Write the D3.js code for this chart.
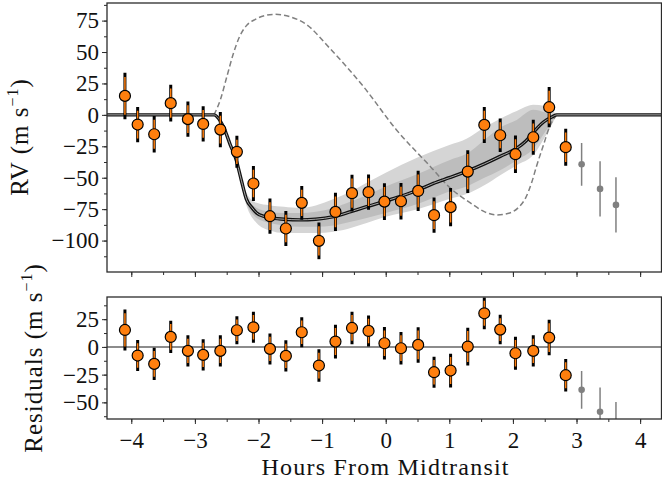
<!DOCTYPE html>
<html>
<head>
<meta charset="utf-8">
<script src="https://cdn.jsdelivr.net/npm/d3@7"></script>
<style>
  body { margin: 0; background: #fff; }
  text { font-family: "Liberation Serif", serif; fill: #111; }
</style>
</head>
<body>
<script>
// observations (hours from midtransit, m/s)
const times = [-4.10, -3.90, -3.64, -3.38, -3.11, -2.87, -2.60, -2.34, -2.08, -1.82, -1.57, -1.32, -1.05,
  -0.79, -0.53, -0.27, -0.02, 0.24, 0.51, 0.76, 1.02, 1.29, 1.55, 1.80, 2.04, 2.32, 2.57, 2.83, 3.08, 3.37, 3.62];
const rv = [15.1, -7.7, -15.4, 9.3, -3.4, -7.2, -11.7, -29.4, -54.6, -80.6, -90.4, -70.0, -100.2,
  -77.2, -62.3, -61.5, -69.0, -68.7, -60.5, -79.8, -73.4, -45.1, -8.0, -16.2, -31.3, -17.8, 6.1, -25.7, -39.3, -58.9, -71.6];
const resid = [15.3, -7.8, -15.3, 9.0, -3.6, -7.2, -3.6, 15.0, 17.7, -1.8, -8.1, 13.2, -16.8,
  4.8, 17.1, 14.4, 3.3, -1.2, 1.8, -22.8, -21.3, 0.3, 30.3, 15.6, -5.7, -3.6, 8.4, -25.5, -38.7, -58.5, -71.6];
const errTotal = [18.5, 14, 14.6, 14.6, 14, 14, 14, 12.7, 14, 14, 14, 13.5, 14.6,
  15.2, 14.6, 14, 14.6, 14.6, 16, 14, 15.2, 17, 14.3, 13.3, 14.9, 14, 16, 14.7, 17, 22, 22];
const errMeas = [15, 11, 11.6, 11.6, 11, 11, 11, 9.7, 11, 11, 11, 10.5, 11.6,
  12.2, 11.6, 11, 11.6, 11.6, 13, 11, 12.2, 14, 11.3, 10.3, 11.9, 11, 13, 11.7, 17, 22, 22];
const nFit = 28; // the last three points are not in the fit (grey)

// best-fit model
const modelT = [-4.5, -2.70, -2.60, -2.53, -2.45, -2.35, -2.27, -2.19, -2.10, -2.03, -1.90, -1.82, -1.60, -1.35,
  -1.10, -0.82, -0.55, -0.30, 0.0, 0.22, 0.50, 0.75, 1.00, 1.27, 1.55, 1.80, 2.06, 2.20, 2.32, 2.45, 2.53, 2.62, 2.69, 4.5];
const modelV = [0, 0, -5, -12, -23, -36, -52, -67, -74, -78, -81, -82, -83, -83.5,
  -83, -81, -77, -73, -68.5, -65, -60, -54.5, -50, -45, -39, -33, -26.5, -21, -14, -7, -4, -1.5, 0, 0];

// credible bands
const bandT = [-2.45, -2.35, -2.19, -2.03, -1.82, -1.60, -1.35, -1.10, -0.82, -0.55, -0.30, 0.0, 0.50, 1.00, 1.27, 1.55, 1.80, 2.06, 2.32, 2.50, 2.62, 2.69];
const lightHi = [-23, -34, -62, -70, -72, -73, -74, -72, -67, -61, -54, -46, -34, -24, -19, -10, -3, 3, 8, 7, 3, 0];
const darkHi = [-23, -35, -65, -74, -77, -78, -78, -77, -74, -69, -64, -57, -47, -36, -31, -20, -10, -4, 4, 2, 0, 0];
const darkLo = [-23, -37, -70, -82, -86, -88, -89, -89, -88, -85, -82, -78, -71, -61, -57, -50, -44, -36, -27, -14, -5, 0];
const lightLo = [-23, -38, -72, -86, -92, -94, -94, -94, -93, -90, -86, -81, -75, -67, -63, -56, -48, -40, -32, -18, -7, 0];

// dashed comparison model
const dashT = [-2.70, -2.60, -2.50, -2.40, -2.30, -2.19, -2.05, -1.90, -1.74, -1.50, -1.25, -0.88, -0.35, 0.17,
  0.70, 1.01, 1.33, 1.55, 1.74, 1.95, 2.10, 2.20, 2.30, 2.37, 2.48, 2.58, 2.69];
const dashV = [0, 12, 30, 48, 62, 71, 76, 79, 80, 78, 72, 53, 22.5, -12,
  -41, -58, -70, -77, -79.6, -78, -73, -66, -53, -41, -24, -9, 0];

const xTicks = [-4, -3, -2, -1, 0, 1, 2, 3, 4];
const topTicks = [-100, -75, -50, -25, 0, 25, 50, 75];
const botTicks = [-50, -25, 0, 25];

(function app() {
  const W = 662, H = 488;
  const frame = "#2b2b2b";
  const orange = "#ff7f0e";
  const grey = "#808080";

  const svg = d3.select("body").append("svg").attr("width", W).attr("height", H);

  const x = d3.scaleLinear().domain([-4.382, 4.336]).range([107, 661.5]);
  const yTop = d3.scaleLinear().domain([-125, 89]).range([272, 3]);
  const yBot = d3.scaleLinear().domain([-65, 45]).range([419, 297]);

  const defs = svg.append("defs");
  defs.append("clipPath").attr("id", "clipTop").append("rect")
    .attr("x", 107).attr("y", 3).attr("width", 661.5 - 107).attr("height", 269);
  defs.append("clipPath").attr("id", "clipBot").append("rect")
    .attr("x", 107).attr("y", 297).attr("width", 661.5 - 107).attr("height", 122);

  function axes(y, yMajor, yMinor, top, bottom) {
    const g = svg.append("g").attr("class", "axes");
    // minor x
    g.append("g").attr("transform", `translate(0,${bottom})`)
      .call(d3.axisBottom(x).tickValues(d3.range(-4, 4.01, 0.5)).tickSize(3).tickFormat(""));
    const xa = g.append("g").attr("transform", `translate(0,${bottom})`)
      .call(d3.axisBottom(x).tickValues(xTicks).tickSize(5).tickPadding(8));
    if (top) xa.selectAll("text").remove();
    g.append("g").attr("transform", "translate(107,0)")
      .call(d3.axisLeft(y).tickValues(yMinor).tickSize(3).tickFormat(""));
    g.append("g").attr("transform", "translate(107,0)")
      .call(d3.axisLeft(y).tickValues(yMajor).tickSize(5).tickPadding(3));
    g.selectAll(".domain").remove();
    g.selectAll(".tick line").attr("stroke", frame).attr("stroke-width", 1);
    g.selectAll(".tick text").attr("font-size", 23).attr("font-family", "Liberation Serif").attr("fill", "#111");
  }

  function errorPoints(g, y, vals) {
    const idx = d3.range(times.length);
    const fit = idx.slice(0, nFit), out = idx.slice(nFit);
    g.selectAll("line.gbar").data(out).enter().append("line")
      .attr("x1", i => x(times[i])).attr("x2", i => x(times[i]))
      .attr("y1", i => y(vals[i] - errTotal[i])).attr("y2", i => y(vals[i] + errTotal[i]))
      .attr("stroke", grey).attr("stroke-width", 1.5);
    g.selectAll("circle.gpt").data(out).enter().append("circle")
      .attr("cx", i => x(times[i])).attr("cy", i => y(vals[i])).attr("r", 3.3).attr("fill", grey);
    g.selectAll("line.tbar").data(fit).enter().append("line")
      .attr("x1", i => x(times[i])).attr("x2", i => x(times[i]))
      .attr("y1", i => y(vals[i] - errTotal[i])).attr("y2", i => y(vals[i] + errTotal[i]))
      .attr("stroke", "#000").attr("stroke-width", 3);
    g.selectAll("line.mbar").data(fit).enter().append("line")
      .attr("x1", i => x(times[i])).attr("x2", i => x(times[i]))
      .attr("y1", i => y(vals[i] - errMeas[i])).attr("y2", i => y(vals[i] + errMeas[i]))
      .attr("stroke", orange).attr("stroke-width", 1.5);
    g.selectAll("circle.pt").data(fit).enter().append("circle")
      .attr("cx", i => x(times[i])).attr("cy", i => y(vals[i])).attr("r", 5.5)
      .attr("fill", orange).attr("stroke", "#000").attr("stroke-width", 1.2);
  }

  // ---- top panel ----
  const gt = svg.append("g").attr("clip-path", "url(#clipTop)");
  const idxB = d3.range(bandT.length);
  const area = (lo, hi) => d3.area().x(i => x(bandT[i])).y0(i => yTop(lo[i])).y1(i => yTop(hi[i])).curve(d3.curveMonotoneX);
  gt.append("path").attr("d", area(lightLo, lightHi)(idxB)).attr("fill", "#d5d5d5");
  gt.append("path").attr("d", area(darkLo, darkHi)(idxB)).attr("fill", "#bdbdbd");

  const dashLine = d3.line().x(i => x(dashT[i])).y(i => yTop(dashV[i])).curve(d3.curveMonotoneX);
  gt.append("path").attr("d", dashLine(d3.range(dashT.length)))
    .attr("fill", "none").attr("stroke", grey).attr("stroke-width", 1.5).attr("stroke-dasharray", "5.5,3");

  const modelLine = d3.line().x(i => x(modelT[i])).y(i => yTop(modelV[i])).curve(d3.curveMonotoneX);
  const md = modelLine(d3.range(modelT.length));
  gt.append("path").attr("d", md).attr("fill", "none").attr("stroke", "#111").attr("stroke-width", 3.4);
  gt.append("path").attr("d", md).attr("fill", "none").attr("stroke", "#a8a8a8").attr("stroke-width", 1);

  errorPoints(gt, yTop, rv);

  svg.append("rect").attr("x", 107).attr("y", 3).attr("width", 661.5 - 107).attr("height", 269)
    .attr("fill", "none").attr("stroke", frame).attr("stroke-width", 1.3);
  axes(yTop, topTicks, d3.range(-112.5, 89, 12.5), true, 272);

  // ---- residual panel ----
  const gb = svg.append("g").attr("clip-path", "url(#clipBot)");
  gb.append("line").attr("x1", 107).attr("x2", 661.5).attr("y1", yBot(0)).attr("y2", yBot(0))
    .attr("stroke", "#8c8c8c").attr("stroke-width", 2);
  errorPoints(gb, yBot, resid);

  svg.append("rect").attr("x", 107).attr("y", 297).attr("width", 661.5 - 107).attr("height", 122)
    .attr("fill", "none").attr("stroke", frame).attr("stroke-width", 1.3);
  axes(yBot, botTicks, d3.range(-62.5, 45, 12.5), false, 419);

  // ---- labels ----
  svg.append("text").attr("x", 385).attr("y", 475).attr("text-anchor", "middle")
    .attr("font-size", 24).attr("textLength", 247).attr("lengthAdjust", "spacing")
    .text("Hours From Midtransit");

  function ylabel(txt, cx, cy) {
    const t = svg.append("text").attr("transform", `translate(${cx},${cy}) rotate(-90)`)
      .attr("text-anchor", "middle").attr("font-size", 25).attr("letter-spacing", 1);
    t.append("tspan").text(txt + " (m s");
    t.append("tspan").attr("font-size", 16).attr("dy", -10).text("\u22121");
    t.append("tspan").attr("dy", 10).text(")");
  }
  ylabel("RV", 28, 137);
  ylabel("Residuals", 42, 358);
})();
</script>
</body>
</html>
